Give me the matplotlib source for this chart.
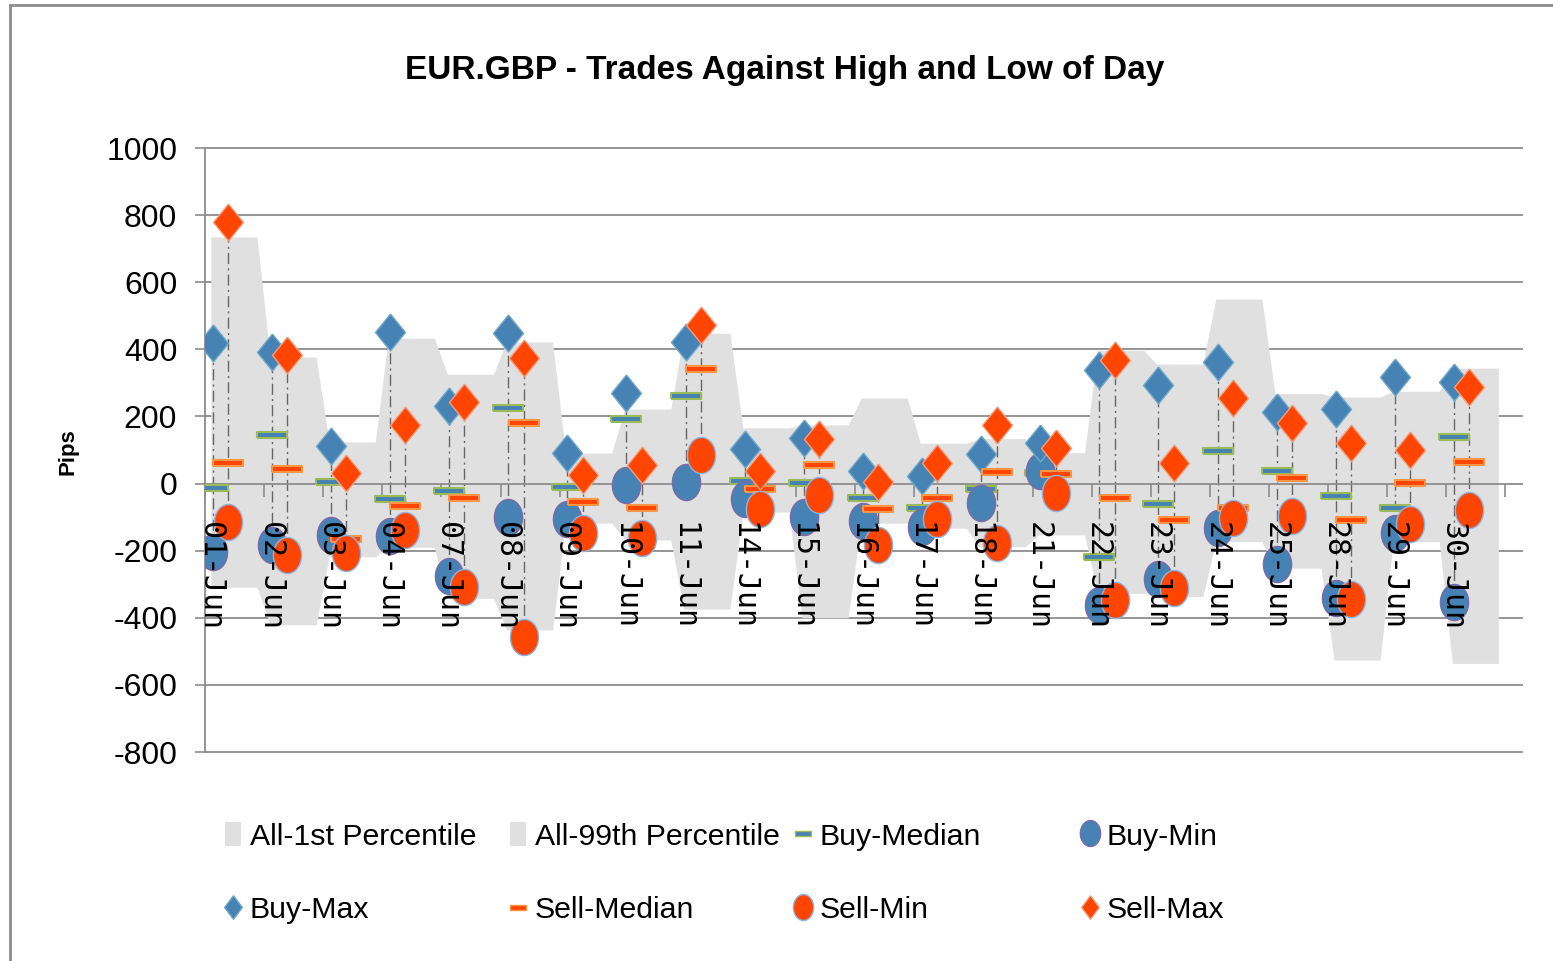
import numpy as np
import matplotlib
matplotlib.use("Agg")
import matplotlib.pyplot as plt
from matplotlib.lines import Line2D
from matplotlib.patches import Patch, Rectangle

plt.rcParams['font.family'] = ['Liberation Sans Narrow', 'Liberation Sans', 'DejaVu Sans']
plt.rcParams['axes.unicode_minus'] = False

days = ['01-Jun', '02-Jun', '03-Jun', '04-Jun', '07-Jun', '08-Jun', '09-Jun', '10-Jun',
        '11-Jun', '14-Jun', '15-Jun', '16-Jun', '17-Jun', '18-Jun', '21-Jun', '22-Jun',
        '23-Jun', '24-Jun', '25-Jun', '28-Jun', '29-Jun', '30-Jun']

all_p1 = [-309, -421, -218, -190, -342, -436, -118, -168, -374, -85, -400,
          -118, -133, -188, -153, -327, -337, -173, -252, -526, -173, -536]
all_p99 = [735, 377, 124, 433, 326, 422, 91, 222, 448, 166, 175,
           255, 120, 134, 92, 397, 356, 550, 268, 258, 275, 344]

buy_median = [-12, 144, 4, -47, -21, 226, -9, 191, 262, 9, 3,
              -44, -74, -17, 30, -218, -62, 97, 37, -37, -74, 140]
buy_min = [-205, -183, -153, -156, -275, -99, -106, -4, 6, -47, -99,
           -113, -128, -57, 36, -362, -285, -133, -240, -342, -148, -352]
buy_max = [418, 392, 112, 451, 231, 448, 90, 269, 423, 102, 135,
           37, 23, 88, 122, 338, 294, 363, 214, 221, 319, 304]
sell_median = [62, 43, -165, -67, -42, 181, -56, -74, 342, -16, 55,
               -77, -44, 33, 28, -44, -108, -73, 18, -108, 1, 65]
sell_min = [-116, -213, -206, -138, -307, -457, -148, -163, 85, -77, -34,
            -183, -106, -176, -29, -347, -312, -103, -97, -345, -120, -79]
sell_max = [780, 383, 31, 175, 244, 373, 26, 55, 473, 36, 132,
            6, 60, 175, 105, 368, 60, 254, 181, 120, 100, 289]

yticks = list(range(-800, 1001, 200))

BLUE = '#4682B4'
ORANGE = '#FF4500'
GRAY_AREA = '#E0E0E0'
GRID = '#8C8C8C'

# marker shapes (tall, like the stretched original)
diamond = [(0, 1.23), (1, 0), (0, -1.23), (-1, 0), (0, 1.23)]
t = np.linspace(0, 2 * np.pi, 61)
ellipse = list(zip(0.78 * np.cos(t), np.sin(t)))
bar = [(-1, -0.22), (1, -0.22), (1, 0.22), (-1, 0.22), (-1, -0.22)]

W, H = 1553, 961
fig = plt.figure(figsize=(W / 100, H / 100), dpi=100)
ax = fig.add_axes([205 / W, 1 - 752 / H, (1522 - 205) / W, (752 - 148) / H])

x = np.arange(len(days))
xb = x + 0.13
xs = x + 0.39

# percentile bands, each day held flat across its slot
xa = np.ravel(np.column_stack([x + 0.1, x + 0.88]))
ax.fill_between(xa, 0, np.repeat(all_p99, 2), color=GRAY_AREA, lw=0, zorder=1)
ax.fill_between(xa, np.repeat(all_p1, 2), 0, color=GRAY_AREA, lw=0, zorder=1)

for v in yticks:
    if v != 0:
        ax.axhline(v, color=GRID, lw=1.3, zorder=0.5, clip_on=False)

# high-low lines
dashdot = (0, (8, 3, 1.5, 3))
ax.vlines(xb, buy_min, buy_max, colors='#666666', linestyles=dashdot, lw=1, zorder=2)
ax.vlines(xs, sell_min, sell_max, colors='#666666', linestyles=dashdot, lw=1, zorder=2)

ax.plot(xb, buy_median, ls='none', marker=bar, ms=22, mfc=BLUE, mec='#9BBB59', mew=1.5, zorder=3)
ax.plot(xb, buy_min, ls='none', marker=ellipse, ms=26, mfc=BLUE, mec='#7E6AA8', mew=1, zorder=3)
ax.plot(xb, buy_max, ls='none', marker=diamond, ms=26.6, mfc=BLUE, mec='#6FA8C8', mew=1, zorder=3)
ax.plot(xs, sell_median, ls='none', marker=bar, ms=22, mfc=ORANGE, mec='#F79646', mew=1.5, zorder=3)
ax.plot(xs, sell_min, ls='none', marker=ellipse, ms=26, mfc=ORANGE, mec='#8DB4E2', mew=1, zorder=3)
ax.plot(xs, sell_max, ls='none', marker=diamond, ms=26.6, mfc=ORANGE, mec='#F0A080', mew=1, zorder=3)

ax.set_xlim(0, 22.28)
ax.set_ylim(-800, 1000)
ax.set_xticks(np.arange(len(days) + 1))
ax.set_yticks(yticks)
ax.tick_params(axis='x', labelbottom=False, direction='out', length=9, width=1.2, color=GRID)
ax.tick_params(axis='y', direction='out', length=7, width=1.2, color=GRID, labelsize=23, pad=13)

for s in ['top', 'right']:
    ax.spines[s].set_visible(False)
ax.spines['left'].set_color(GRID)
ax.spines['left'].set_linewidth(1.3)
ax.spines['bottom'].set_position(('data', 0))
ax.spines['bottom'].set_color(GRID)
ax.spines['bottom'].set_linewidth(1.3)

for i, d in enumerate(days):
    ax.annotate(d, xy=(i + 0.1, 0), xytext=(0, -28), textcoords='offset points',
                rotation=270, ha='center', va='top', fontsize=21.5,
                family='DejaVu Sans Mono', zorder=6, annotation_clip=False)

fig.text(0.505, 1 - 70 / H, 'EUR.GBP - Trades Against High and Low of Day',
         ha='center', va='center', fontsize=24, weight='bold')
fig.text(68 / W, 1 - 452 / H, 'Pips', rotation=90, ha='center', va='center',
         fontsize=16, weight='bold')

# legend, four columns of two rows
area_h = Patch(facecolor=GRAY_AREA, edgecolor='none')
small_bar = [(-1, -0.3), (1, -0.3), (1, 0.3), (-1, 0.3), (-1, -0.3)]
small_diamond = [(0, 1.33), (1, 0), (0, -1.33), (-1, 0), (0, 1.33)]
h_bmed = Line2D([], [], ls='none', marker=small_bar, ms=12, mfc=BLUE, mec='#9BBB59', mew=1)
h_smed = Line2D([], [], ls='none', marker=small_bar, ms=12, mfc=ORANGE, mec='#F79646', mew=1)
h_bmin = Line2D([], [], ls='none', marker=ellipse, ms=18.7, mfc=BLUE, mec='#7E6AA8', mew=1)
h_smin = Line2D([], [], ls='none', marker=ellipse, ms=18.7, mfc=ORANGE, mec='#8DB4E2', mew=1)
h_bmax = Line2D([], [], ls='none', marker=small_diamond, ms=17, mfc=BLUE, mec='#6FA8C8', mew=1)
h_smax = Line2D([], [], ls='none', marker=small_diamond, ms=17, mfc=ORANGE, mec='#F0A080', mew=1)

columns = [
    ([area_h, h_bmax], ['All-1st Percentile', 'Buy-Max']),
    ([area_h, h_smed], ['All-99th Percentile', 'Sell-Median']),
    ([h_bmed, h_smin], ['Buy-Median', 'Sell-Min']),
    ([h_bmin, h_smax], ['Buy-Min', 'Sell-Max']),
]
lefts = [225, 510, 795, 1082]
for (handles, labels), left in zip(columns, lefts):
    fig.legend(handles, labels, loc='upper left', bbox_to_anchor=(left / W, 1 - 822 / H),
               frameon=False, fontsize=21.8, handlelength=0.52, handleheight=0.85,
               handletextpad=0.3, labelspacing=1.48, borderpad=0, borderaxespad=0)

fig.add_artist(Rectangle((10 / W, -0.05), 1.1, 1.05 - 5 / H, transform=fig.transFigure,
                         fill=False, ec='#8C8C8C', lw=2))

fig.savefig('out.png', dpi=100)
